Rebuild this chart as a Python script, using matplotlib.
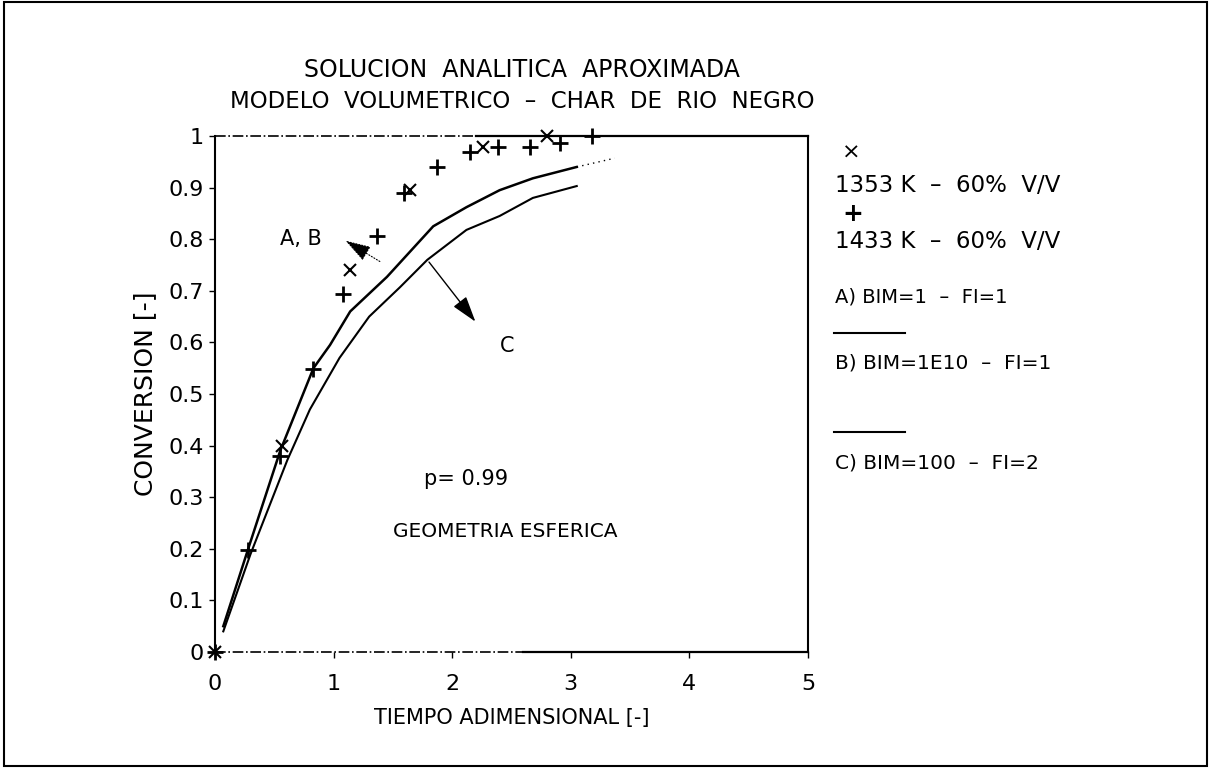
import matplotlib
matplotlib.use("Agg")
import matplotlib.pyplot as plt
from matplotlib.patches import Rectangle

plt.rcParams['font.family'] = ['DejaVu Sans']

# Experimental conversion data
tau_1353 = [0.0, 0.565, 1.14, 1.64, 2.26, 2.80]
x_1353 = [0.0, 0.40, 0.74, 0.895, 0.979, 1.0]
tau_1433 = [0.0, 0.28, 0.55, 0.83, 1.08, 1.37, 1.59, 1.87, 2.15, 2.39, 2.66, 2.91, 3.18]
x_1433 = [0.0, 0.198, 0.38, 0.548, 0.694, 0.806, 0.89, 0.94, 0.969, 0.979, 0.979, 0.986, 1.0]

# Analytical solutions
tau_ab = [0.07, 0.28, 0.55, 0.83, 0.97, 1.14, 1.45, 1.84, 2.12, 2.40, 2.68, 3.05]
x_ab = [0.05, 0.20, 0.39, 0.55, 0.595, 0.66, 0.727, 0.825, 0.862, 0.895, 0.918, 0.94]
tau_ab_ext = [3.05, 3.37]
x_ab_ext = [0.94, 0.957]
tau_c = [0.07, 0.30, 0.61, 0.80, 1.05, 1.30, 1.56, 1.79, 2.12, 2.40, 2.68, 3.05]
x_c = [0.04, 0.19, 0.372, 0.47, 0.57, 0.65, 0.707, 0.76, 0.818, 0.845, 0.88, 0.903]

x_ticks = [0, 1, 2, 3, 4, 5]
y_ticks = [0, 0.1, 0.2, 0.3, 0.4, 0.5, 0.6, 0.7, 0.8, 0.9, 1]
y_tick_labels = ['0', '0.1', '0.2', '0.3', '0.4', '0.5', '0.6', '0.7', '0.8', '0.9', '1']

fig = plt.figure(figsize=(12.11, 7.68), dpi=100)
fig.patches.append(Rectangle((0.003, 0.003), 0.994, 0.994, transform=fig.transFigure,
                             fill=False, edgecolor='black', linewidth=1.5))

ax = fig.add_axes([215 / 1211, 1 - 652 / 768, (808 - 215) / 1211, (652 - 136) / 768])
ax.set_xlim(0, 5)
ax.set_ylim(0, 1)

ax.plot(tau_ab, x_ab, color='black', lw=1.8)
ax.plot(tau_ab_ext, x_ab_ext, color='black', lw=1.0, ls=(0, (1, 3)))
ax.plot(tau_c, x_c, color='black', lw=1.5)
ax.plot(tau_1353, x_1353, ls='none', marker='x', ms=8, mew=1.5, color='black', clip_on=False)
ax.plot(tau_1433, x_1433, ls='none', marker='+', ms=11, mew=2.0, color='black', clip_on=False)

# Spines: partly dash-dotted on top and bottom
for side in ('top', 'bottom'):
    ax.spines[side].set_visible(False)
for side in ('left', 'right'):
    ax.spines[side].set_linewidth(1.5)
ax.plot([0, 2.2], [1, 1], color='black', lw=1.2, ls='-.', clip_on=False)
ax.plot([2.2, 5], [1, 1], color='black', lw=1.6, clip_on=False)
ax.plot([0, 2.6], [0, 0], color='black', lw=1.2, ls='-.', clip_on=False)
ax.plot([2.6, 5], [0, 0], color='black', lw=1.6, clip_on=False)

ax.set_xticks(x_ticks)
ax.set_yticks(y_ticks)
ax.set_yticklabels(y_tick_labels)
ax.tick_params(direction='out', length=4, width=1, labelsize=16, pad=4)
ax.tick_params(axis='x', pad=12)

ax.set_xlabel('TIEMPO ADIMENSIONAL [-]', fontsize=15, labelpad=10)
ax.set_ylabel('CONVERSION [-]', fontsize=18, labelpad=8)

# Annotations
ax.annotate('', xy=(1.08, 0.80), xytext=(1.41, 0.754),
            arrowprops=dict(arrowstyle='-|>,head_length=1.6,head_width=0.5',
                            color='black', lw=0.8, ls=':'))
ax.text(0.72, 0.80, 'A, B', fontsize=15, ha='center', va='center')
ax.annotate('', xy=(2.21, 0.636), xytext=(1.79, 0.76),
            arrowprops=dict(arrowstyle='-|>,head_length=1.6,head_width=0.5',
                            color='black', lw=1.0))
ax.text(2.46, 0.593, 'C', fontsize=15, ha='center', va='center')
ax.text(2.12, 0.335, 'p= 0.99', fontsize=15, ha='center', va='center')
ax.text(2.45, 0.233, 'GEOMETRIA ESFERICA', fontsize=14.5, ha='center', va='center')

# Title
fig.text(522 / 1211, 1 - 70 / 768, 'SOLUCION  ANALITICA  APROXIMADA',
         fontsize=17, ha='center', va='center')
fig.text(522 / 1211, 1 - 101 / 768, 'MODELO  VOLUMETRICO  \u2013  CHAR  DE  RIO  NEGRO',
         fontsize=16.5, ha='center', va='center')

# Key on the right
fig.text(851 / 1211, 1 - 153 / 768, '\u00d7', fontsize=16, ha='center', va='center')
fig.text(835 / 1211, 1 - 185 / 768, '1353 K  \u2013  60%  V/V', fontsize=16.5, ha='left', va='center')
fig.text(853 / 1211, 1 - 214 / 768, '+', fontsize=18, ha='center', va='center', weight='bold')
fig.text(835 / 1211, 1 - 241 / 768, '1433 K  \u2013  60%  V/V', fontsize=16.5, ha='left', va='center')
fig.text(835 / 1211, 1 - 297 / 768, 'A) BIM=1  \u2013  FI=1', fontsize=14, ha='left', va='center')
fig.lines.append(plt.Line2D([834 / 1211, 905 / 1211], [1 - 333 / 768, 1 - 333 / 768],
                            transform=fig.transFigure, color='black', lw=1.5))
fig.text(835 / 1211, 1 - 363 / 768, 'B) BIM=1E10  \u2013  FI=1', fontsize=14.5, ha='left', va='center')
fig.lines.append(plt.Line2D([834 / 1211, 905 / 1211], [1 - 432 / 768, 1 - 432 / 768],
                            transform=fig.transFigure, color='black', lw=1.5))
fig.text(835 / 1211, 1 - 463 / 768, 'C) BIM=100  \u2013  FI=2', fontsize=14.5, ha='left', va='center')

fig.savefig('out.png', dpi=100)
